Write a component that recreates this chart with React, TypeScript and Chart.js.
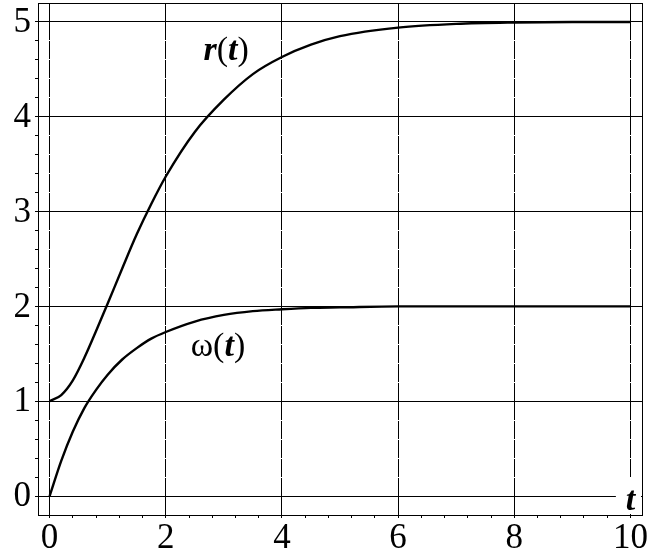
import React, { useEffect, useRef } from "react";
import { Chart, registerables } from "chart.js";

Chart.register(...registerables);

// Time samples and the two curves
const tValues = [0, 0.2, 0.4, 0.6, 0.8, 1.0, 1.25, 1.5, 1.75, 2.0, 2.5, 3.0, 3.5, 4.0, 4.5, 5.0, 6.0, 7.0, 8.0, 9.0, 10.0];
const rValues = [1.0, 1.065, 1.22, 1.46, 1.74, 2.03, 2.4, 2.76, 3.08, 3.37, 3.84, 4.18, 4.45, 4.63, 4.76, 4.85, 4.94, 4.98, 4.995, 5.0, 5.0];
const omegaValues = [0, 0.37, 0.68, 0.93, 1.12, 1.28, 1.44, 1.56, 1.66, 1.73, 1.84, 1.91, 1.95, 1.97, 1.985, 1.99, 2.0, 2.0, 2.0, 2.0, 2.0];

const xMajorTicks = [0, 2, 4, 6, 8, 10];
const yMajorTicks = [0, 1, 2, 3, 4, 5];
const xMinorStep = 0.4;
const yMinorStep = 0.2;

const X_MIN = -0.2, X_MAX = 10.2, Y_MIN = -0.2, Y_MAX = 5.2;

const SERIF = "'Liberation Serif', 'DejaVu Serif', serif";

function tickList(step: number, lo: number, hi: number) {
  const out: number[] = [];
  const n = Math.round((hi - lo) / step);
  for (let i = 0; i <= n; i++) out.push(Math.round((lo + i * step) * 1000) / 1000);
  return out;
}

function isMajor(list: number[], v: number) {
  return list.some((m) => Math.abs(m - v) < 1e-6);
}

function drawRich(ctx: CanvasRenderingContext2D, parts: { t: string; f: string }[], x: number, y: number) {
  let cx = x;
  for (const p of parts) {
    ctx.font = p.f;
    ctx.fillText(p.t, cx, y);
    cx += ctx.measureText(p.t).width;
  }
}

const framePlugin = {
  id: "frameAndLabels",
  afterDatasetsDraw(chart: any) {
    const { ctx, chartArea: a, scales } = chart;
    const xs = scales.x, ys = scales.y;
    ctx.save();
    // "t" axis label with white backing
    ctx.fillStyle = "#fff";
    ctx.fillRect(xs.getPixelForValue(9.75), ys.getPixelForValue(0.2), xs.getPixelForValue(10.2) - xs.getPixelForValue(9.75) - 1, ys.getPixelForValue(-0.2) - ys.getPixelForValue(0.2) - 1);
    ctx.fillStyle = "#000";
    ctx.textBaseline = "alphabetic";
    ctx.textAlign = "center";
    ctx.font = `italic bold 34px ${SERIF}`;
    ctx.fillText("t", xs.getPixelForValue(10.0), ys.getPixelForValue(-0.15));
    ctx.textAlign = "left";
    const bi = `italic bold 34px ${SERIF}`;
    const rm = `34px ${SERIF}`;
    drawRich(ctx, [{ t: "r", f: bi }, { t: "(", f: rm }, { t: "t", f: bi }, { t: ")", f: rm }], xs.getPixelForValue(2.65), ys.getPixelForValue(4.6));
    drawRich(ctx, [{ t: "ω", f: rm }, { t: "(", f: rm }, { t: "t", f: bi }, { t: ")", f: rm }], xs.getPixelForValue(2.43), ys.getPixelForValue(1.48));
    // frame
    ctx.strokeStyle = "#000";
    ctx.lineWidth = 1;
    ctx.strokeRect(Math.round(a.left) + 0.5, Math.round(a.top) + 0.5, Math.round(a.right - a.left), Math.round(a.bottom - a.top));
    ctx.restore();
  },
};

export default function App() {
  const ref = useRef<HTMLCanvasElement>(null);
  useEffect(() => {
    if (!ref.current) return;
    const xTicks = tickList(xMinorStep, 0, 10);
    const yTicks = tickList(yMinorStep, 0, 5);
    const chart = new Chart(ref.current, {
      type: "line",
      data: {
        datasets: [
          {
            label: "r(t)",
            data: tValues.map((t, i) => ({ x: t, y: rValues[i] })),
            borderColor: "#000",
            borderWidth: 2.4,
            pointRadius: 0,
            cubicInterpolationMode: "monotone",
            fill: false,
          },
          {
            label: "ω(t)",
            data: tValues.map((t, i) => ({ x: t, y: omegaValues[i] })),
            borderColor: "#000",
            borderWidth: 2.4,
            pointRadius: 0,
            cubicInterpolationMode: "monotone",
            fill: false,
          },
        ],
      },
      options: {
        animation: false,
        responsive: false,
        devicePixelRatio: 1,
        layout: { padding: { top: 3, right: 7, left: 0, bottom: 0 } },
        plugins: { legend: { display: false }, tooltip: { enabled: false } },
        scales: {
          x: {
            type: "linear",
            min: X_MIN,
            max: X_MAX,
            afterBuildTicks: (s: any) => {
              s.ticks = xTicks.map((v) => ({ value: v }));
            },
            afterFit: (s: any) => {
              s.height = 36;
              s.paddingLeft = 0;
              s.paddingRight = 0;
            },
            border: { display: false, dash: [18, 1] },
            grid: {
              color: (c: any) => (c.tick && isMajor(xMajorTicks, c.tick.value) ? "#000" : "rgba(0,0,0,0)"),
              lineWidth: 1,
              tickColor: "#000",
              tickLength: 3,
              tickWidth: 1,
            },
            ticks: {
              autoSkip: false,
              maxRotation: 0,
              padding: 0,
              color: "#000",
              font: { family: SERIF, size: 35 },
              callback: (v: any) => (isMajor(xMajorTicks, Number(v)) ? String(Math.round(Number(v))) : ""),
            },
          },
          y: {
            type: "linear",
            min: Y_MIN,
            max: Y_MAX,
            afterBuildTicks: (s: any) => {
              s.ticks = yTicks.map((v) => ({ value: v }));
            },
            afterFit: (s: any) => {
              s.width = 38;
              s.paddingTop = 0;
              s.paddingBottom = 0;
            },
            border: { display: false },
            grid: {
              color: (c: any) => (c.tick && isMajor(yMajorTicks, c.tick.value) ? "#000" : "rgba(0,0,0,0)"),
              lineWidth: 1,
              tickColor: "#000",
              tickLength: 3,
              tickWidth: 1,
            },
            ticks: {
              autoSkip: false,
              padding: 4,
              labelOffset: 1,
              color: "#000",
              font: { family: SERIF, size: 35 },
              callback: (v: any) => (isMajor(yMajorTicks, Number(v)) ? String(Math.round(Number(v))) : ""),
            },
          },
        },
      },
      plugins: [framePlugin],
    });
    return () => chart.destroy();
  }, []);
  return (
    <div style={{ position: "absolute", left: 0, top: 0, width: 649, height: 551, background: "#fff" }}>
      <canvas ref={ref} width={649} height={551} style={{ width: 649, height: 551, display: "block" }} />
    </div>
  );
}
